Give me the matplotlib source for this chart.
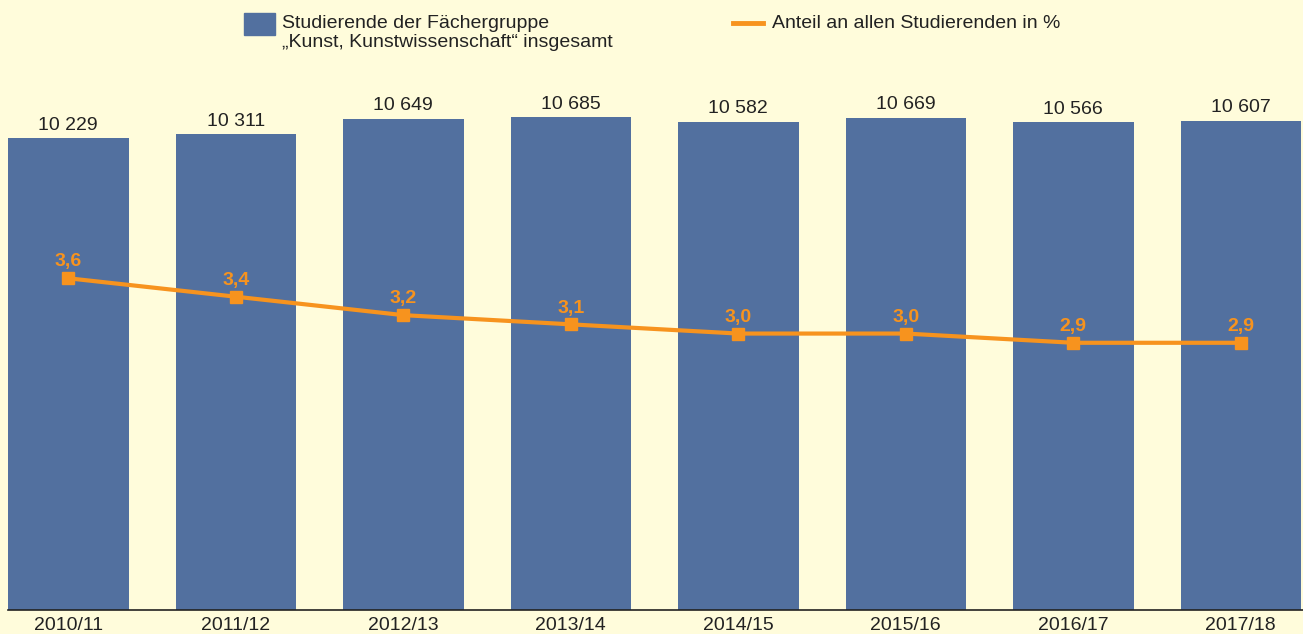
import numpy as np
import matplotlib.pyplot as plt
from matplotlib.patches import Rectangle
from matplotlib.lines import Line2D

# Data
semesters = ["2010/11", "2011/12", "2012/13", "2013/14", "2014/15", "2015/16", "2016/17", "2017/18"]
studierende = [10229, 10311, 10649, 10685, 10582, 10669, 10566, 10607]
anteil = [3.6, 3.4, 3.2, 3.1, 3.0, 3.0, 2.9, 2.9]

bg = "#FFFCDB"
blue = "#52709F"
orange = "#F7931E"
dark = "#222222"

plt.rcParams['font.family'] = ['Liberation Sans', 'DejaVu Sans']
fs = 14

W, H = 1303, 634
fig = plt.figure(figsize=(W / 100, H / 100), dpi=100, facecolor=bg)
ax = fig.add_axes([8 / W, (H - 610) / H, (W - 8) / W, 610 / H])
ax.set_facecolor(bg)

x = np.arange(len(semesters))
ax.bar(x, studierende, width=0.72, color=blue, zorder=2)
ax.set_xlim(-0.36, -0.36 + 1295 / 167.5)
ax.set_ylim(0, 13220)
for xi, v in zip(x, studierende):
    ax.annotate(f"{v:,}".replace(",", " "), (xi, v), xytext=(0, 6), textcoords="offset points",
                ha="center", va="baseline", fontsize=fs, color=dark)

ax.set_xticks(x)
ax.set_xticklabels(semesters, fontsize=fs, color=dark)
ax.tick_params(axis="x", length=0, pad=5)
ax.set_yticks([])
for s in ["top", "left", "right"]:
    ax.spines[s].set_visible(False)
ax.spines["bottom"].set_color(dark)
ax.spines["bottom"].set_linewidth(1.2)

ax2 = ax.twinx()
ax2.set_ylim(0, 6.62)
ax2.plot(x, anteil, color=orange, lw=3, marker="s", markersize=9, zorder=3, solid_joinstyle="round")
for xi, v in zip(x, anteil):
    ax2.annotate(f"{v:.1f}".replace(".", ","), (xi, v), xytext=(0, 8.5), textcoords="offset points",
                 ha="center", va="baseline", fontsize=fs, color=orange, fontweight="bold")
ax2.set_yticks([])
for s in ax2.spines.values():
    s.set_visible(False)

# Legend drawn by hand
fig.patches.append(Rectangle((244 / W, 1 - 35 / H), 31 / W, 22 / H, transform=fig.transFigure,
                             color=blue, figure=fig))
fig.text(282 / W, 1 - 28 / H, "Studierende der Fächergruppe", fontsize=fs, color=dark, va="baseline")
fig.text(282 / W, 1 - 47 / H, "„Kunst, Kunstwissenschaft“ insgesamt", fontsize=fs, color=dark, va="baseline")
fig.lines.append(Line2D([733 / W, 763 / W], [1 - 23 / H, 1 - 23 / H], transform=fig.transFigure,
                        color=orange, lw=3.5, figure=fig))
fig.text(772 / W, 1 - 28 / H, "Anteil an allen Studierenden in %", fontsize=fs, color=dark, va="baseline")

fig.savefig("out.png", dpi=100, facecolor=bg)
